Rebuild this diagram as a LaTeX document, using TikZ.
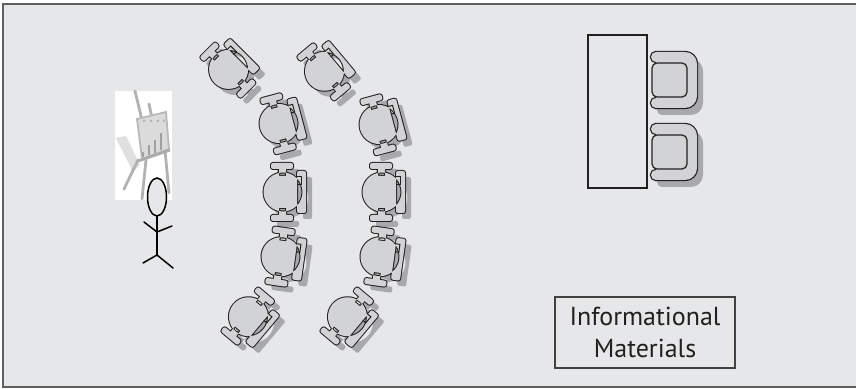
\documentclass[tikz,border=0pt]{standalone}
\usepackage{fontspec}
\setmainfont{PT Sans}

\definecolor{roombg}{HTML}{E6E7E8}
\definecolor{chairfill}{HTML}{D1D3D4}
\definecolor{chairshadow}{HTML}{A7A9AC}
\definecolor{inkline}{HTML}{231F20}
\definecolor{framegray}{HTML}{5E5F61}

\tikzset{
    wall/.style     = {draw=framegray, line width=1pt, fill=roombg},
    stickman/.style = {draw=black, line width=0.75pt, line cap=round},
    tablebox/.style = {draw=inkline, line width=0.6pt},
    easelpart/.style = {draw=gray!60, line width=1.4pt, line cap=round},
    labelbox/.style = {draw=inkline!85, line width=0.7pt, minimum width=90pt, minimum height=35.5pt,
                       align=center, text=inkline, font=\fontsize{13}{16}\selectfont}
}

% round chair seen from above, facing left
\newcommand{\roundchairshape}[1]{%
    \path[#1] (-2,0) circle[radius=19.5]
        (12,-21) [rounded corners=1pt] rectangle (21,21)
        (-14,-29) rectangle (8,-23)
        (-14,23) rectangle (8,29)
        [sharp corners] (-6,-24) rectangle (1,-16)
        (-6,16) rectangle (1,24);}

\newcommand{\roundchair}[3]{%
    \begin{scope}[shift={(#1+6,#2+6)}, rotate=#3]
        \roundchairshape{fill=chairshadow}
    \end{scope}
    \begin{scope}[shift={(#1,#2)}, rotate=#3]
        \roundchairshape{draw=inkline, line width=1pt}
        \roundchairshape{fill=chairfill}
        \draw[inkline, line width=0.5pt] (12,-15) -- (16,-15) -- (16,-7) -- (12,-7);
    \end{scope}}

% armchair with its arms open to the left
\newcommand{\armchairshape}[1]{%
    \path[#1] (-18,-28) -- (11,-28) arc[start angle=-90, end angle=0, radius=12]
        -- (23,16) arc[start angle=0, end angle=90, radius=12] -- (-18,28) -- cycle
        (-18,-23) circle[radius=5] (-18,23) circle[radius=5];}

\newcommand{\armchair}[2]{%
    \begin{scope}[shift={(#1+6,#2+7)}]
        \armchairshape{fill=chairshadow}
    \end{scope}
    \begin{scope}[shift={(#1,#2)}]
        \armchairshape{draw=inkline, line width=1.2pt}
        \armchairshape{fill=chairfill}
        \draw[inkline, line width=0.6pt, fill=chairfill, rounded corners=2.5pt] (-22,-17) rectangle (13,17);
    \end{scope}}

\begin{document}
\begin{tikzpicture}[x=0.5pt, y=-0.5pt]
    \useasboundingbox (0,0) rectangle (856,389);

    % Room
    \path[wall] (2.5,4.5) rectangle (880,387.5);

    % Easel
    \fill[white] (115,91) rectangle (172,200);
    \fill[gray!25] (116,138) -- (126,136) -- (140,165) -- (133,172) -- cycle;
    \draw[easelpart] (135,91) -- (142,120);
    \draw[easelpart] (149,104) -- (152,118);
    \draw[easelpart] (138,160) -- (124,189);
    \draw[easelpart] (146,160) -- (142,199);
    \draw[easelpart] (165,150) -- (169,193);
    \draw[gray!55, fill=gray!28, line width=0.9pt] (137,119) -- (166,112) -- (169,149) -- (142,159) -- cycle;
    \foreach \bx/\btop/\bbot in {143/152/157, 149/145/155, 155/140/153, 161/133/150}
        \draw[gray!75, line width=1.4pt] (\bx,\btop) -- (\bx,\bbot);
    \foreach \dx in {143,150,157,163}
        \draw[gray!60, line width=1pt] (\dx,121) -- (\dx+2,120.5);
    \draw[gray!65, line width=1.4pt] (138,161) -- (170,150);

    % Presenter
    \draw[stickman, fill=roombg] (157,197) ellipse[x radius=9.5, y radius=19];
    \draw[stickman] (157,216) -- (157,255);
    \draw[stickman] (144,222) -- (157,232) -- (172,226);
    \draw[stickman] (143,263) -- (157,255) -- (173,268);

    % Seating in two arcs
    \foreach \cx/\cy/\ca in {230/68/45, 281/123/15, 285/192/0, 283/257/-8, 250/318/-40,
                             326/70/40, 381/124/15, 384/192/0, 382/257/-8, 349/318/-40}
        \roundchair{\cx}{\cy}{\ca};

    % Registration table
    \path[tablebox] (588,35) rectangle (647,188);
    \armchair{674}{80}
    \armchair{674}{152}

    % Handouts
    \node[labelbox] (infolabel) at (645,332.5) {Informational\\Materials};
\end{tikzpicture}
\end{document}
